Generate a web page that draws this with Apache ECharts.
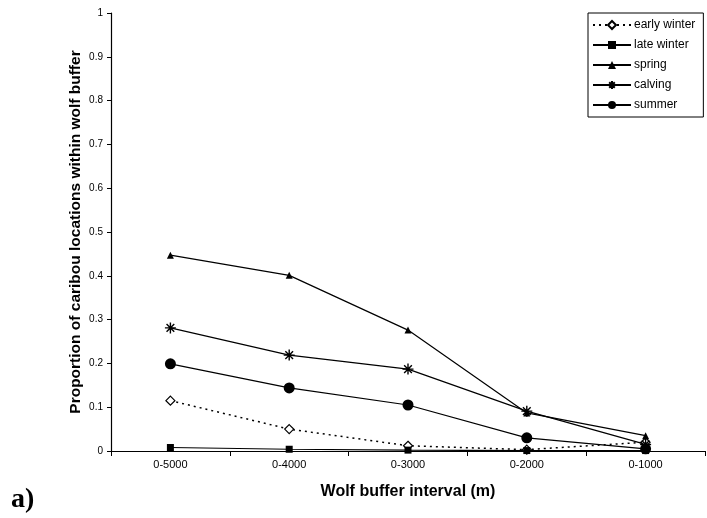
<!DOCTYPE html>
<html>
<head>
<meta charset="utf-8">
<script src="https://cdn.jsdelivr.net/npm/echarts@6/dist/echarts.min.js"></script>
<style>
  html, body { margin: 0; padding: 0; background: #fff; }
  #chart { width: 707px; height: 518px; }
</style>
</head>
<body>
<div id="chart"></div>
<script>
// Buffer intervals (m)
const intervals = ['0-5000', '0-4000', '0-3000', '0-2000', '0-1000'];

// Proportion of caribou locations within each wolf buffer, by season
const earlyWinter = [0.115, 0.050, 0.012, 0.003, 0.020];
const lateWinter  = [0.008, 0.004, 0.002, 0.001, 0.001];
const spring      = [0.447, 0.401, 0.276, 0.087, 0.035];
const calving     = [0.281, 0.219, 0.187, 0.091, 0.015];
const summer      = [0.199, 0.144, 0.105, 0.030, 0.005];

const yTicks = [0, 0.1, 0.2, 0.3, 0.4, 0.5, 0.6, 0.7, 0.8, 0.9, 1];

const FONT = 'Liberation Sans, Arial, sans-serif';
const asterisk = 'path://M0,5L10,5M5,0L5,10M1.5,1.5L8.5,8.5M8.5,1.5L1.5,8.5';

function line(name, data, symbol, size, opts) {
  return Object.assign({
    name: name,
    type: 'line',
    data: data,
    symbol: symbol,
    symbolSize: size,
    showAllSymbol: true,
    lineStyle: { color: '#000', width: 1.2 },
    itemStyle: { color: '#000', borderColor: '#000', borderWidth: 0 },
    emphasis: { disabled: true },
    animation: false
  }, opts || {});
}

const chart = echarts.init(document.getElementById('chart'));
chart.setOption({
  backgroundColor: '#fff',
  animation: false,
  textStyle: { fontFamily: FONT },
  grid: { left: 111, right: 2, top: 13, bottom: 67 },
  legend: {
    orient: 'vertical',
    left: 588,
    top: 13,
    width: 108,
    padding: [6, 8, 6, 4],
    itemGap: 8,
    itemWidth: 38,
    itemHeight: 10,
    borderColor: '#000',
    borderWidth: 1,
    textStyle: { fontFamily: FONT, fontSize: 12, color: '#000', padding: [0, 0, 0, -2] },
    data: ['early winter', 'late winter', 'spring', 'calving', 'summer']
  },
  xAxis: {
    type: 'category',
    data: intervals,
    boundaryGap: true,
    name: 'Wolf buffer interval (m)',
    nameLocation: 'middle',
    nameGap: 33,
    nameTextStyle: { fontFamily: FONT, fontSize: 16, fontWeight: 'bold', color: '#000' },
    axisLine: { lineStyle: { color: '#000', width: 1.2 } },
    axisTick: { show: true, interval: 0, length: 5, lineStyle: { color: '#000' } },
    axisLabel: { fontFamily: FONT, fontSize: 11, color: '#000', margin: 8 },
    splitLine: { show: false }
  },
  yAxis: {
    type: 'value',
    min: yTicks[0],
    max: yTicks[yTicks.length - 1],
    interval: 0.1,
    name: 'Proportion of caribou locations within wolf buffer',
    nameLocation: 'middle',
    nameGap: 27,
    nameMoveOverlap: false,
    nameTextStyle: { fontFamily: FONT, fontSize: 15.5, fontWeight: 'bold', color: '#000' },
    axisLine: { show: true, lineStyle: { color: '#000', width: 1.2 } },
    axisTick: { show: true, length: 4, lineStyle: { color: '#000' } },
    axisLabel: {
      fontFamily: FONT, fontSize: 10, color: '#000', margin: 8,
      formatter: v => String(Math.round(v * 10) / 10)
    },
    splitLine: { show: false }
  },
  series: [
    line('early winter', earlyWinter, 'diamond', 9, {
      lineStyle: { color: '#000', width: 1.5, type: [2, 4] },
      itemStyle: { color: '#fff', borderColor: '#000', borderWidth: 1.2 }
    }),
    line('late winter', lateWinter, 'rect', 7),
    line('spring', spring, 'triangle', 7),
    line('calving', calving, asterisk, 11, {
      itemStyle: { color: 'transparent', borderColor: '#000', borderWidth: 1.4 }
    }),
    line('summer', summer, 'circle', 11)
  ],
  graphic: [
    {
      type: 'text',
      left: 11,
      top: 486,
      style: {
        text: 'a)',
        font: 'bold 28px "Liberation Serif", "Times New Roman", serif',
        fill: '#000'
      }
    }
  ]
});
</script>
</body>
</html>
